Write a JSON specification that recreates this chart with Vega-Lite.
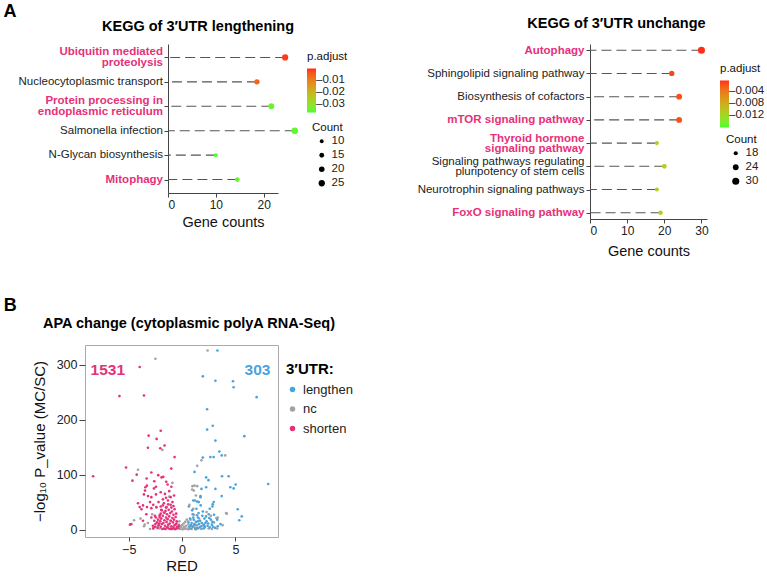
{
  "$schema": "https://vega.github.io/schema/vega-lite/v6.json",
  "background": "white",
  "padding": {"left": 3, "top": 2, "right": 5, "bottom": 2},
  "config": {
    "font": "Liberation Sans",
    "view": {"stroke": null},
    "axis": {"grid": false, "domainColor": "#444", "tickColor": "#444", "labelColor": "#222", "titleColor": "#111", "titleFontWeight": "normal", "tickSize": 4, "labelPadding": 2},
    "legend": {"padding": 0, "titleFontWeight": "normal", "titleColor": "#111", "labelColor": "#222"},
    "title": {"fontSize": 14.5, "fontWeight": "bold", "color": "#000"}
  },
  "spacing": 39,
  "resolve": {"scale": {"color": "independent", "size": "independent"}, "legend": {"color": "independent", "size": "independent"}},
  "vconcat": [
    {
      "title": {"text": "A", "anchor": "start", "fontSize": 18, "fontWeight": "bold", "dx": -15, "offset": -5},
      "spacing": 69,
      "resolve": {"scale": {"color": "independent", "size": "independent"}, "legend": {"color": "independent", "size": "independent"}},
      "hconcat": [
        {
          "spacing": -61,
          "resolve": {"scale": {"color": "independent", "size": "independent"}, "legend": {"color": "independent", "size": "independent"}},
          "hconcat": [
            {
              "width": 78,
              "height": 149,
              "data": {"values": [
                {"term": "Ubiquitin mediated|proteolysis"},
                {"term": "Nucleocytoplasmic transport"},
                {"term": "Protein processing in|endoplasmic reticulum"},
                {"term": "Salmonella infection"},
                {"term": "N-Glycan biosynthesis"},
                {"term": "Mitophagy"}
              ]},
              "encoding": {
                "y": {"field": "term", "type": "nominal", "sort": null, "scale": {"type": "point", "padding": 0.55, "domain": ["Ubiquitin mediated|proteolysis", "Nucleocytoplasmic transport", "Protein processing in|endoplasmic reticulum", "Salmonella infection", "N-Glycan biosynthesis", "Mitophagy"]}, "axis": null},
                "x": {"value": "width"},
                "text": {"field": "term", "type": "nominal"}
              },
              "layer": [
                {"transform": [{"filter": "indexof(['Ubiquitin mediated|proteolysis','Protein processing in|endoplasmic reticulum','Mitophagy'], datum.term) < 0 && indexof(datum.term, '|') < 0"}],
                 "mark": {"type": "text", "align": "right", "baseline": "middle", "lineBreak": "|", "lineHeight": 10.5, "fontSize": 11.5, "color": "#222"}},
                {"transform": [{"filter": "indexof(['Ubiquitin mediated|proteolysis','Protein processing in|endoplasmic reticulum','Mitophagy'], datum.term) < 0 && indexof(datum.term, '|') >= 0"}],
                 "mark": {"type": "text", "align": "right", "baseline": "middle", "lineBreak": "|", "lineHeight": 10.5, "fontSize": 11.5, "color": "#222", "dy": -5.25}},
                {"transform": [{"filter": "indexof(['Ubiquitin mediated|proteolysis','Protein processing in|endoplasmic reticulum','Mitophagy'], datum.term) >= 0 && indexof(datum.term, '|') < 0"}],
                 "mark": {"type": "text", "align": "right", "baseline": "middle", "lineBreak": "|", "lineHeight": 10.5, "fontSize": 11.5, "fontWeight": "bold", "color": "#E6317A"}},
                {"transform": [{"filter": "indexof(['Ubiquitin mediated|proteolysis','Protein processing in|endoplasmic reticulum','Mitophagy'], datum.term) >= 0 && indexof(datum.term, '|') >= 0"}],
                 "mark": {"type": "text", "align": "right", "baseline": "middle", "lineBreak": "|", "lineHeight": 10.5, "fontSize": 11.5, "fontWeight": "bold", "color": "#E6317A", "dy": -5.25}}
              ]
            },
            {
              "width": 110,
              "height": 149,
              "title": {"text": "KEGG of 3′UTR lengthening", "dx": -25, "offset": 10},
              "data": {"values": [
                {"term": "Ubiquitin mediated|proteolysis", "count": 24.5, "padj": 0.002},
                {"term": "Nucleocytoplasmic transport", "count": 18.6, "padj": 0.0065},
                {"term": "Protein processing in|endoplasmic reticulum", "count": 21.6, "padj": 0.034},
                {"term": "Salmonella infection", "count": 26.5, "padj": 0.035},
                {"term": "N-Glycan biosynthesis", "count": 10, "padj": 0.036},
                {"term": "Mitophagy", "count": 14.5, "padj": 0.034}
              ]},
              "encoding": {
                "y": {"field": "term", "type": "nominal", "sort": null, "scale": {"type": "point", "padding": 0.55},
                  "axis": {"title": null, "labels": false}},
                "x": {"field": "count", "type": "quantitative", "title": "Gene counts", "scale": {"domain": [0, 23], "nice": false},
                  "axis": {"values": [0, 10, 20], "labelFontSize": 12, "titleFontSize": 14.5, "titlePadding": 5}}
              },
              "layer": [
                {"mark": {"type": "rule", "strokeDash": [10, 5], "color": "#555", "strokeWidth": 1.1, "clip": false},
                 "encoding": {"x2": {"datum": 0}}},
                {"mark": {"type": "point", "filled": true, "opacity": 1, "clip": false},
                 "encoding": {
                   "color": {"field": "padj", "type": "quantitative", "scale": {"domain": [0.0365, 0.001], "range": ["#44ff30", "#ff2a1a"], "interpolate": "lab"},
                     "legend": {"title": "p.adjust", "orient": "none", "legendX": 139, "legendY": 7, "direction": "vertical", "gradientLength": 44, "gradientThickness": 9, "values": [0.01, 0.02, 0.03], "labelExpr": "'–' + format(datum.value, '.2f')", "labelOverlap": false, "titleFontSize": 11.5, "labelFontSize": 11.5, "labelOffset": 0, "titlePadding": 6, "gradientStrokeWidth": 0}},
                   "size": {"field": "count", "type": "quantitative", "scale": {"domain": [10, 26.5], "range": [15, 42], "zero": false},
                     "legend": {"title": "Count", "orient": "none", "legendX": 144, "legendY": 78, "values": [10, 15, 20, 25], "symbolFillColor": "black", "symbolStrokeWidth": 0, "symbolType": "circle", "labelFontSize": 11.5, "titleFontSize": 11.5, "rowPadding": 1, "titlePadding": 2, "labelOffset": 4, "symbolOffset": 4}}
                 }}
              ]
            }
          ]
        },
        {
          "width": 117,
          "height": 175,
          "title": {"text": "KEGG of 3′UTR unchange", "dx": -32, "offset": 13},
          "data": {"values": [
            {"term": "Autophagy", "count": 30, "padj": 0.0008},
            {"term": "Sphingolipid signaling pathway", "count": 22, "padj": 0.0015},
            {"term": "Biosynthesis of cofactors", "count": 24, "padj": 0.002},
            {"term": "mTOR signaling pathway", "count": 24, "padj": 0.002},
            {"term": "Thyroid hormone|signaling pathway", "count": 18, "padj": 0.0115},
            {"term": "Signaling pathways regulating|pluripotency of stem cells", "count": 20, "padj": 0.0115},
            {"term": "Neurotrophin signaling pathways", "count": 18, "padj": 0.0115},
            {"term": "FoxO signaling pathway", "count": 19, "padj": 0.0115}
          ]},
          "encoding": {
            "y": {"field": "term", "type": "nominal", "sort": null, "scale": {"type": "point", "padding": 0.27},
              "axis": {"title": null, "labelExpr": "split(datum.label, '|')", "labelFontSize": 11.5, "labelLineHeight": 10.5, "labelLimit": 300,
                "labelOffset": {"condition": {"test": "indexof(datum.value, '|') >= 0", "value": -5}, "value": 0},
                "labelColor": {"condition": {"test": "indexof(['Autophagy','mTOR signaling pathway','Thyroid hormone|signaling pathway','FoxO signaling pathway'], datum.value) >= 0", "value": "#E6317A"}, "value": "#222"},
                "labelFontWeight": {"condition": {"test": "indexof(['Autophagy','mTOR signaling pathway','Thyroid hormone|signaling pathway','FoxO signaling pathway'], datum.value) >= 0", "value": "bold"}, "value": "normal"}}},
            "x": {"field": "count", "type": "quantitative", "title": "Gene counts", "scale": {"domain": [0, 31.5], "nice": false},
              "axis": {"values": [0, 10, 20, 30], "labelFontSize": 12, "titleFontSize": 14.5, "titlePadding": 8}}
          },
          "layer": [
            {"mark": {"type": "rule", "strokeDash": [10, 5], "color": "#555", "strokeWidth": 1.1, "clip": false},
             "encoding": {"x2": {"datum": 0}}},
            {"mark": {"type": "point", "filled": true, "opacity": 1, "clip": false},
             "encoding": {
               "color": {"field": "padj", "type": "quantitative", "scale": {"domain": [0.0162, 0.0007], "range": ["#44ff30", "#ff2a1a"], "interpolate": "lab"},
                 "legend": {"title": "p.adjust", "orient": "none", "legendX": 130, "legendY": 19, "direction": "vertical", "gradientLength": 47, "gradientThickness": 9, "values": [0.004, 0.008, 0.012], "labelExpr": "'–' + format(datum.value, '.3f')", "labelOverlap": false, "titleFontSize": 11.5, "labelFontSize": 11.5, "labelOffset": 0, "titlePadding": 6, "gradientStrokeWidth": 0}},
               "size": {"field": "count", "type": "quantitative", "scale": {"domain": [18, 30], "range": [17, 50], "zero": false},
                 "legend": {"title": "Count", "orient": "none", "legendX": 136, "legendY": 90, "values": [18, 24, 30], "symbolFillColor": "black", "symbolStrokeWidth": 0, "symbolType": "circle", "labelFontSize": 11.5, "titleFontSize": 11.5, "rowPadding": 1, "titlePadding": 2, "labelOffset": 4, "symbolOffset": 4}}
             }}
          ]
        }
      ]
    },
    {
      "title": {"text": "B", "anchor": "start", "fontSize": 18, "fontWeight": "bold", "dx": -28, "offset": 0},
      "hconcat": [
        {
          "width": 193,
          "height": 192,
          "view": {"stroke": "#aaaaaa", "strokeWidth": 1},
          "title": {"text": "APA change (cytoplasmic polyA RNA-Seq)", "dx": 7.5, "offset": 14},
          "layer": [
            {
              "data": {"values": [
                {"x": -2.5, "y": 311, "g": "nc"}, {"x": 2.4, "y": 326, "g": "nc"}, {"x": -1.85, "y": 145, "g": "nc"}, {"x": -4.13, "y": 109, "g": "nc"}, {"x": 4.05, "y": 135, "g": "nc"}, {"x": 1.82, "y": 126, "g": "nc"}, {"x": 1.42, "y": 116, "g": "nc"}, {"x": 0.98, "y": 79, "g": "nc"}, {"x": 1.17, "y": 80, "g": "nc"}, {"x": 0.95, "y": 73, "g": "nc"}, {"x": 1.42, "y": 79, "g": "nc"}, {"x": 1.1, "y": 71, "g": "nc"}, {"x": 4.13, "y": 30, "g": "nc"}, {"x": 3.35, "y": 22, "g": "nc"}, {"x": 3.22, "y": 21, "g": "nc"}, {"x": 4.2, "y": 29, "g": "nc"}, {"x": -4.5, "y": 17, "g": "nc"}, {"x": -3.57, "y": 6, "g": "nc"}, {"x": -3.5, "y": 9, "g": "nc"},
                {"x": -0.2, "y": 1, "g": "nc"}, {"x": 0.1, "y": 2, "g": "nc"}, {"x": 0.3, "y": 1, "g": "nc"}, {"x": -0.4, "y": 3, "g": "nc"}, {"x": 0.5, "y": 2, "g": "nc"}, {"x": 0.7, "y": 4, "g": "nc"}, {"x": -0.6, "y": 2, "g": "nc"}, {"x": 0.2, "y": 5, "g": "nc"}, {"x": -0.1, "y": 4, "g": "nc"}, {"x": 0.9, "y": 1, "g": "nc"}, {"x": 1.2, "y": 3, "g": "nc"}, {"x": 1.5, "y": 2, "g": "nc"}, {"x": 1.8, "y": 1, "g": "nc"}, {"x": 2.1, "y": 3, "g": "nc"}, {"x": 2.5, "y": 2, "g": "nc"}, {"x": -0.8, "y": 5, "g": "nc"}, {"x": -1.0, "y": 3, "g": "nc"}, {"x": -1.3, "y": 6, "g": "nc"}, {"x": 0.4, "y": 7, "g": "nc"}, {"x": 0.0, "y": 8, "g": "nc"}, {"x": -0.3, "y": 9, "g": "nc"}, {"x": 0.6, "y": 10, "g": "nc"}, {"x": 1.0, "y": 6, "g": "nc"}, {"x": 1.4, "y": 8, "g": "nc"}, {"x": 2.0, "y": 9, "g": "nc"}, {"x": -2.3, "y": 5, "g": "nc"}, {"x": -2.7, "y": 3, "g": "nc"}, {"x": -2.0, "y": 20, "g": "nc"}, {"x": -2.8, "y": 28, "g": "nc"}, {"x": -1.6, "y": 30, "g": "nc"}, {"x": -3.2, "y": 12, "g": "nc"}, {"x": 1.1, "y": 27, "g": "nc"}, {"x": 0.8, "y": 18, "g": "nc"}, {"x": 2.7, "y": 25, "g": "nc"}, {"x": 3.0, "y": 13, "g": "nc"}, {"x": -0.5, "y": 12, "g": "nc"}, {"x": 0.3, "y": 14, "g": "nc"}, {"x": -1.1, "y": 16, "g": "nc"}, {"x": 1.6, "y": 20, "g": "nc"}, {"x": 2.3, "y": 32, "g": "nc"}, {"x": 3.8, "y": 8, "g": "nc"}, {"x": -3.9, "y": 20, "g": "nc"}, {"x": 0.05, "y": 0.5, "g": "nc"}, {"x": -0.15, "y": 6, "g": "nc"}, {"x": 0.25, "y": 3, "g": "nc"}, {"x": 0.6, "y": 0.5, "g": "nc"}, {"x": -0.7, "y": 0.5, "g": "nc"}, {"x": 1.3, "y": 0.5, "g": "nc"}, {"x": 2.8, "y": 1, "g": "nc"}, {"x": 3.3, "y": 2, "g": "nc"}, {"x": -1.6, "y": 1, "g": "nc"}, {"x": -2.1, "y": 2, "g": "nc"}, {"x": -3.0, "y": 1, "g": "nc"}, {"x": 0.15, "y": 11, "g": "nc"}, {"x": -0.25, "y": 15, "g": "nc"}, {"x": 0.45, "y": 18, "g": "nc"}, {"x": 1.05, "y": 38, "g": "nc"}, {"x": -1.2, "y": 60, "g": "nc"}, {"x": -0.9, "y": 85, "g": "nc"}, {"x": 1.3, "y": 62, "g": "nc"}, {"x": 0.7, "y": 45, "g": "nc"}, {"x": -2.4, "y": 40, "g": "nc"},
                {"x": 3.32, "y": 326, "g": "lengthen"}, {"x": 1.95, "y": 279, "g": "lengthen"}, {"x": 3.13, "y": 271, "g": "lengthen"}, {"x": 4.78, "y": 270, "g": "lengthen"}, {"x": 4.84, "y": 259, "g": "lengthen"}, {"x": 7.0, "y": 241, "g": "lengthen"}, {"x": 2.35, "y": 219, "g": "lengthen"}, {"x": 2.88, "y": 189, "g": "lengthen"}, {"x": 2.35, "y": 182, "g": "lengthen"}, {"x": 5.84, "y": 170, "g": "lengthen"}, {"x": 3.13, "y": 162, "g": "lengthen"}, {"x": 3.5, "y": 142, "g": "lengthen"}, {"x": 3.72, "y": 135, "g": "lengthen"}, {"x": 2.66, "y": 132, "g": "lengthen"}, {"x": 2.97, "y": 132, "g": "lengthen"}, {"x": 1.95, "y": 131, "g": "lengthen"}, {"x": 1.17, "y": 105, "g": "lengthen"}, {"x": 2.26, "y": 95, "g": "lengthen"}, {"x": 2.48, "y": 90, "g": "lengthen"}, {"x": 3.75, "y": 97, "g": "lengthen"}, {"x": 4.37, "y": 97, "g": "lengthen"}, {"x": 5.03, "y": 82, "g": "lengthen"}, {"x": 4.84, "y": 75, "g": "lengthen"}, {"x": 4.53, "y": 77, "g": "lengthen"}, {"x": 8.08, "y": 83, "g": "lengthen"}, {"x": 1.82, "y": 74, "g": "lengthen"}, {"x": 2.26, "y": 77, "g": "lengthen"}, {"x": 3.13, "y": 74, "g": "lengthen"}, {"x": 3.72, "y": 61, "g": "lengthen"}, {"x": 1.73, "y": 59, "g": "lengthen"}, {"x": 1.05, "y": 53, "g": "lengthen"}, {"x": 1.2, "y": 53, "g": "lengthen"}, {"x": 1.57, "y": 50, "g": "lengthen"}, {"x": 0.64, "y": 42, "g": "lengthen"}, {"x": 2.97, "y": 50, "g": "lengthen"}, {"x": 2.88, "y": 46, "g": "lengthen"}, {"x": 2.85, "y": 42, "g": "lengthen"}, {"x": 5.22, "y": 37, "g": "lengthen"}, {"x": 5.6, "y": 24, "g": "lengthen"}, {"x": 5.37, "y": 17, "g": "lengthen"}, {"x": 3.6, "y": 10, "g": "lengthen"}, {"x": 3.35, "y": 6, "g": "lengthen"}, {"x": 1.42, "y": 51, "g": "lengthen"}, {"x": 1.73, "y": 61, "g": "lengthen"},
                {"x": 0.8, "y": 2, "g": "lengthen"}, {"x": 1.0, "y": 5, "g": "lengthen"}, {"x": 1.2, "y": 8, "g": "lengthen"}, {"x": 1.4, "y": 3, "g": "lengthen"}, {"x": 1.6, "y": 10, "g": "lengthen"}, {"x": 1.8, "y": 6, "g": "lengthen"}, {"x": 2.0, "y": 2, "g": "lengthen"}, {"x": 2.2, "y": 12, "g": "lengthen"}, {"x": 2.4, "y": 7, "g": "lengthen"}, {"x": 2.6, "y": 4, "g": "lengthen"}, {"x": 2.8, "y": 9, "g": "lengthen"}, {"x": 0.9, "y": 12, "g": "lengthen"}, {"x": 1.1, "y": 18, "g": "lengthen"}, {"x": 1.3, "y": 14, "g": "lengthen"}, {"x": 1.5, "y": 22, "g": "lengthen"}, {"x": 1.7, "y": 16, "g": "lengthen"}, {"x": 1.9, "y": 25, "g": "lengthen"}, {"x": 2.1, "y": 20, "g": "lengthen"}, {"x": 2.3, "y": 15, "g": "lengthen"}, {"x": 2.5, "y": 28, "g": "lengthen"}, {"x": 2.7, "y": 18, "g": "lengthen"}, {"x": 2.9, "y": 5, "g": "lengthen"}, {"x": 1.0, "y": 28, "g": "lengthen"}, {"x": 1.4, "y": 26, "g": "lengthen"}, {"x": 0.85, "y": 8, "g": "lengthen"}, {"x": 1.25, "y": 1, "g": "lengthen"}, {"x": 1.65, "y": 4, "g": "lengthen"}, {"x": 2.05, "y": 8, "g": "lengthen"}, {"x": 2.45, "y": 11, "g": "lengthen"}, {"x": 2.85, "y": 14, "g": "lengthen"}, {"x": 3.1, "y": 3, "g": "lengthen"}, {"x": 3.3, "y": 18, "g": "lengthen"}, {"x": 1.55, "y": 30, "g": "lengthen"}, {"x": 1.95, "y": 33, "g": "lengthen"}, {"x": 1.35, "y": 38, "g": "lengthen"}, {"x": 0.95, "y": 35, "g": "lengthen"}, {"x": 2.6, "y": 38, "g": "lengthen"}, {"x": 1.75, "y": 44, "g": "lengthen"}, {"x": 2.25, "y": 24, "g": "lengthen"}, {"x": 0.75, "y": 20, "g": "lengthen"}, {"x": 1.15, "y": 10, "g": "lengthen"}, {"x": 3.0, "y": 27, "g": "lengthen"}, {"x": 0.7, "y": 6, "g": "lengthen"}, {"x": 1.5, "y": 15, "g": "lengthen"}, {"x": 2.15, "y": 5, "g": "lengthen"}, {"x": 1.85, "y": 12, "g": "lengthen"}, {"x": 2.55, "y": 21, "g": "lengthen"}, {"x": 1.05, "y": 22, "g": "lengthen"}, {"x": 0.6, "y": 14, "g": "lengthen"},
                {"x": -3.97, "y": 296, "g": "shorten"}, {"x": -5.87, "y": 243, "g": "shorten"}, {"x": -3.57, "y": 244, "g": "shorten"}, {"x": -3.13, "y": 171, "g": "shorten"}, {"x": -2.0, "y": 180, "g": "shorten"}, {"x": -2.38, "y": 165, "g": "shorten"}, {"x": -3.2, "y": 149, "g": "shorten"}, {"x": -2.04, "y": 148, "g": "shorten"}, {"x": -1.64, "y": 153, "g": "shorten"}, {"x": -0.7, "y": 132, "g": "shorten"}, {"x": -5.25, "y": 113, "g": "shorten"}, {"x": -8.34, "y": 97, "g": "shorten"}, {"x": -4.25, "y": 100, "g": "shorten"}, {"x": -4.65, "y": 89, "g": "shorten"}, {"x": -2.88, "y": 104, "g": "shorten"}, {"x": -2.23, "y": 99, "g": "shorten"}, {"x": -1.92, "y": 95, "g": "shorten"}, {"x": -1.76, "y": 96, "g": "shorten"}, {"x": -3.32, "y": 93, "g": "shorten"}, {"x": -1.01, "y": 111, "g": "shorten"}, {"x": -1.48, "y": 87, "g": "shorten"}, {"x": -3.29, "y": 80, "g": "shorten"}, {"x": -3.44, "y": 77, "g": "shorten"}, {"x": -2.63, "y": 75, "g": "shorten"}, {"x": -2.44, "y": 78, "g": "shorten"}, {"x": -3.47, "y": 71, "g": "shorten"}, {"x": -3.57, "y": 64, "g": "shorten"}, {"x": -3.19, "y": 61, "g": "shorten"}, {"x": -2.88, "y": 59, "g": "shorten"}, {"x": -2.44, "y": 64, "g": "shorten"}, {"x": -4.13, "y": 48, "g": "shorten"}, {"x": -3.97, "y": 41, "g": "shorten"}, {"x": -3.8, "y": 37, "g": "shorten"}, {"x": -3.66, "y": 44, "g": "shorten"}, {"x": -3.29, "y": 41, "g": "shorten"}, {"x": -2.88, "y": 39, "g": "shorten"}, {"x": -2.41, "y": 41, "g": "shorten"}, {"x": -1.79, "y": 55, "g": "shorten"}, {"x": -1.32, "y": 53, "g": "shorten"}, {"x": -1.07, "y": 59, "g": "shorten"}, {"x": -0.75, "y": 62, "g": "shorten"}, {"x": -1.07, "y": 45, "g": "shorten"}, {"x": -1.45, "y": 41, "g": "shorten"}, {"x": -1.95, "y": 36, "g": "shorten"}, {"x": -2.1, "y": 26, "g": "shorten"}, {"x": -3.35, "y": 28, "g": "shorten"}, {"x": -2.88, "y": 22, "g": "shorten"}, {"x": -3.66, "y": 16, "g": "shorten"}, {"x": -4.75, "y": 10, "g": "shorten"}, {"x": -4.88, "y": 9, "g": "shorten"}, {"x": -2.73, "y": 7, "g": "shorten"}, {"x": -2.54, "y": 25, "g": "shorten"},
                {"x": -1.2, "y": 70, "g": "shorten"}, {"x": -1.6, "y": 65, "g": "shorten"}, {"x": -2.0, "y": 68, "g": "shorten"}, {"x": -1.0, "y": 78, "g": "shorten"}, {"x": -1.35, "y": 82, "g": "shorten"}, {"x": -2.6, "y": 88, "g": "shorten"}, {"x": -1.7, "y": 48, "g": "shorten"}, {"x": -2.2, "y": 50, "g": "shorten"}, {"x": -0.9, "y": 50, "g": "shorten"}, {"x": -1.5, "y": 58, "g": "shorten"}, {"x": -3.0, "y": 50, "g": "shorten"}, {"x": -2.7, "y": 45, "g": "shorten"}, {"x": -2.0, "y": 42, "g": "shorten"},
                {"x": -2.3, "y": 3, "g": "shorten"}, {"x": -2.0, "y": 5, "g": "shorten"}, {"x": -1.7, "y": 2, "g": "shorten"}, {"x": -1.4, "y": 4, "g": "shorten"}, {"x": -1.1, "y": 1, "g": "shorten"}, {"x": -0.8, "y": 3, "g": "shorten"}, {"x": -0.5, "y": 2, "g": "shorten"},
                {"x": -2.2, "y": 8, "g": "shorten"}, {"x": -1.9, "y": 10, "g": "shorten"}, {"x": -1.6, "y": 7, "g": "shorten"}, {"x": -1.3, "y": 9, "g": "shorten"}, {"x": -1.0, "y": 6, "g": "shorten"}, {"x": -0.7, "y": 8, "g": "shorten"}, {"x": -0.45, "y": 5, "g": "shorten"},
                {"x": -2.35, "y": 13, "g": "shorten"}, {"x": -2.05, "y": 15, "g": "shorten"}, {"x": -1.75, "y": 12, "g": "shorten"}, {"x": -1.45, "y": 14, "g": "shorten"}, {"x": -1.15, "y": 11, "g": "shorten"}, {"x": -0.85, "y": 13, "g": "shorten"}, {"x": -0.55, "y": 10, "g": "shorten"},
                {"x": -2.25, "y": 18, "g": "shorten"}, {"x": -1.95, "y": 20, "g": "shorten"}, {"x": -1.65, "y": 17, "g": "shorten"}, {"x": -1.35, "y": 19, "g": "shorten"}, {"x": -1.05, "y": 16, "g": "shorten"}, {"x": -0.75, "y": 18, "g": "shorten"}, {"x": -0.5, "y": 15, "g": "shorten"},
                {"x": -2.1, "y": 23, "g": "shorten"}, {"x": -1.8, "y": 25, "g": "shorten"}, {"x": -1.5, "y": 22, "g": "shorten"}, {"x": -1.2, "y": 24, "g": "shorten"}, {"x": -0.9, "y": 21, "g": "shorten"}, {"x": -0.6, "y": 23, "g": "shorten"},
                {"x": -2.0, "y": 29, "g": "shorten"}, {"x": -1.7, "y": 31, "g": "shorten"}, {"x": -1.4, "y": 28, "g": "shorten"}, {"x": -1.1, "y": 30, "g": "shorten"}, {"x": -0.8, "y": 27, "g": "shorten"}, {"x": -0.55, "y": 29, "g": "shorten"},
                {"x": -1.9, "y": 35, "g": "shorten"}, {"x": -1.55, "y": 34, "g": "shorten"}, {"x": -1.25, "y": 36, "g": "shorten"}, {"x": -0.95, "y": 33, "g": "shorten"}, {"x": -0.7, "y": 37, "g": "shorten"},
                {"x": -2.5, "y": 10, "g": "shorten"}, {"x": -2.6, "y": 16, "g": "shorten"}, {"x": -2.45, "y": 22, "g": "shorten"}, {"x": -2.7, "y": 2, "g": "shorten"}, {"x": -2.55, "y": 5, "g": "shorten"}, {"x": -1.85, "y": 1, "g": "shorten"}, {"x": -1.55, "y": 1, "g": "shorten"}, {"x": -1.25, "y": 2, "g": "shorten"}, {"x": -0.95, "y": 1, "g": "shorten"}, {"x": -0.65, "y": 1, "g": "shorten"}, {"x": -0.35, "y": 3, "g": "shorten"}, {"x": -0.3, "y": 7, "g": "shorten"}, {"x": -2.15, "y": 11, "g": "shorten"}, {"x": -1.5, "y": 40, "g": "shorten"}, {"x": -1.0, "y": 40, "g": "shorten"}, {"x": -1.8, "y": 44, "g": "shorten"}, {"x": -1.3, "y": 46, "g": "shorten"}, {"x": -0.8, "y": 43, "g": "shorten"}
              ]},
              "mark": {"type": "circle", "size": 7, "opacity": 1},
              "encoding": {
                "x": {"field": "x", "type": "quantitative", "title": "RED", "scale": {"domain": [-9.1, 9.0], "nice": false, "zero": false},
                  "axis": {"values": [-5, 0, 5], "domain": false, "labelFontSize": 12.5, "titleFontSize": 15, "titlePadding": 3}},
                "y": {"field": "y", "type": "quantitative", "title": "−log₁₀ P_value (MC/SC)", "scale": {"domain": [-13.5, 336], "nice": false, "zero": false},
                  "axis": {"values": [0, 100, 200, 300], "domain": false, "tickSize": 6, "labelFontSize": 12.5, "titleFontSize": 15, "titlePadding": 9}},
                "color": {"field": "g", "type": "nominal", "scale": {"domain": ["lengthen", "nc", "shorten"], "range": ["#4AA3DD", "#A3A3A3", "#E5307A"]},
                  "legend": {"title": "3′UTR:", "orient": "none", "legendX": 201, "legendY": 17, "titleFontSize": 15, "titleFontWeight": "bold", "titleColor": "#000", "labelFontSize": 13, "symbolSize": 30, "symbolType": "circle", "rowPadding": 5.5, "titlePadding": 6, "labelOffset": 4}}
              }
            },
            {
              "data": {"values": [{"x": -6.96, "y": 290, "label": "1531"}]},
              "mark": {"type": "text", "color": "#E5307A", "fontWeight": "bold", "fontSize": 15.5},
              "encoding": {"x": {"field": "x", "type": "quantitative"}, "y": {"field": "y", "type": "quantitative"}, "text": {"field": "label", "type": "nominal"}}
            },
            {
              "data": {"values": [{"x": 7.08, "y": 290, "label": "303"}]},
              "mark": {"type": "text", "color": "#4AA3DD", "fontWeight": "bold", "fontSize": 15.5},
              "encoding": {"x": {"field": "x", "type": "quantitative"}, "y": {"field": "y", "type": "quantitative"}, "text": {"field": "label", "type": "nominal"}}
            }
          ]
        }
      ]
    }
  ]
}
